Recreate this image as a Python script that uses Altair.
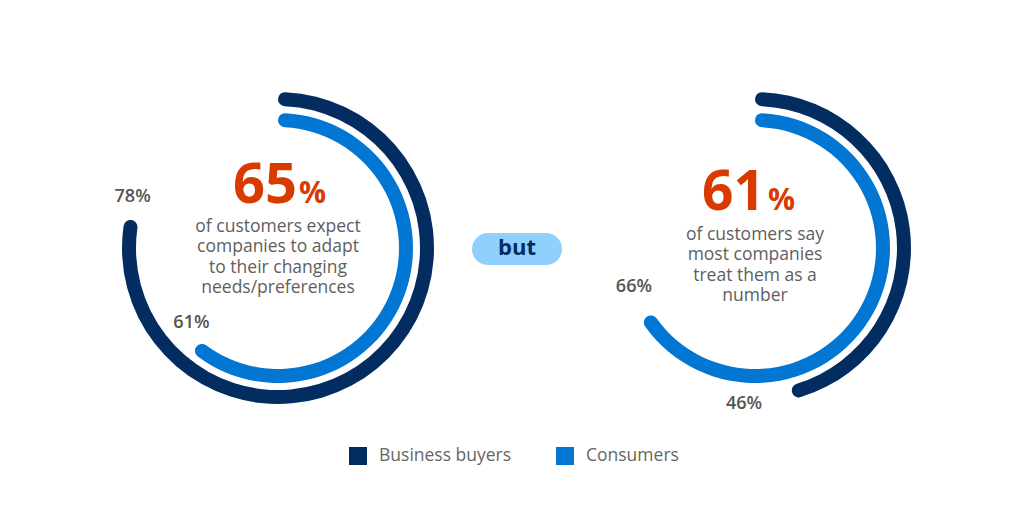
import math
import altair as alt
import pandas as pd

# ---- data ----
panels = ["left", "right"]
segments = ["Business buyers", "Consumers"]
buyers_values = [78, 46]
consumer_values = [61, 66]
headline_numbers = ["65", "61"]
subtitle_lines = [
    ["of customers expect", "companies to adapt", "to their changing", "needs/preferences"],
    ["of customers say", "most companies", "treat them as a", "number"],
]
connector_word = "but"

rows = []
for p, b, c in zip(panels, buyers_values, consumer_values):
    rows.append({"panel": p, "segment": segments[0], "value": b, "label": f"{b}%"})
    rows.append({"panel": p, "segment": segments[1], "value": c, "label": f"{c}%"})
arcs_df = pd.DataFrame(rows)
text_df = pd.DataFrame({"panel": panels, "headline": headline_numbers})
line_rows = []
for p, lines in zip(panels, subtitle_lines):
    for i, t in enumerate(lines):
        line_rows.append({"panel": p, "line": i, "text": t})
lines_df = pd.DataFrame(line_rows)

NAVY = "#032D60"
BLUE = "#0176D3"
ORANGE = "#D83A00"
GRAY = "#5E5E5E"
FONT = "Open Sans"

x_enc = alt.X("panel:N", scale=alt.Scale(type="point", domain=panels, range=[278, 755], padding=0), axis=None)
theta_scale = alt.Scale(domain=[0, 100], range=[0, 2 * math.pi])
color_enc = alt.Color(
    "segment:N",
    scale=alt.Scale(domain=segments, range=[NAVY, BLUE]),
    legend=alt.Legend(
        orient="none", legendX=349, legendY=447, direction="horizontal",
        title=None, symbolType="square", symbolSize=324, symbolStrokeWidth=0,
        labelFontSize=17.5, labelFont=FONT, labelColor="#666666", labelOffset=12,
        columnPadding=44, padding=0, labelFontWeight=500,
    ),
)

base = alt.Chart(arcs_df)

outer = base.transform_filter(alt.datum.segment == segments[0]).mark_arc(cornerRadius=7).encode(
    x=x_enc, y=alt.value(248),
    theta=alt.Theta("value:Q", stack=None, scale=theta_scale),
    theta2=alt.Theta2(datum=0),
    radius=alt.value(156), radius2=alt.value(142),
    color=color_enc,
)
inner = base.transform_filter(alt.datum.segment == segments[1]).mark_arc(cornerRadius=7).encode(
    x=x_enc, y=alt.value(248),
    theta=alt.Theta("value:Q", stack=None, scale=theta_scale),
    theta2=alt.Theta2(datum=0),
    radius=alt.value(135), radius2=alt.value(121),
    color=color_enc,
)

def end_label(panel, segment, r, dx, dy):
    return base.transform_filter(
        (alt.datum.panel == panel) & (alt.datum.segment == segment)
    ).mark_text(
        font=FONT, fontSize=18, fontWeight=600, color="#555555",
        align="center", baseline="middle", dx=dx, dy=dy,
    ).encode(
        x=x_enc, y=alt.value(248),
        theta=alt.Theta("value:Q", stack=None, scale=theta_scale),
        radius=alt.value(r),
        text="label:N",
    )

labels = [
    end_label("left", segments[0], 149, 1, -23),
    end_label("left", segments[1], 128, -5, -24),
    end_label("right", segments[1], 128, -13, -30),
    end_label("right", segments[0], 149, -48, 12),
]

tbase = alt.Chart(text_df)
lbase = alt.Chart(lines_df)
line_y = alt.Y("line:O", scale=alt.Scale(type="point", domain=[0, 1, 2, 3], range=[232, 293], padding=0), axis=None)

def headline(panel, y, dx_num, dx_pct, dy_lines, size):
    f = tbase.transform_filter(alt.datum.panel == panel)
    num = f.mark_text(font=FONT, fontSize=size, fontWeight=700, color=ORANGE,
                      align="right", baseline="alphabetic", dx=dx_num).encode(
        x=x_enc, y=alt.value(y), text="headline:N")
    pct = f.mark_text(font=FONT, fontSize=30, fontWeight=700, color=ORANGE,
                      align="left", baseline="alphabetic", dx=dx_pct).encode(
        x=x_enc, y=alt.value(y), text=alt.value("%"))
    sub = lbase.transform_filter(alt.datum.panel == panel).mark_text(
        font=FONT, fontSize=17.5, color=GRAY, align="center",
        baseline="alphabetic", dy=dy_lines).encode(
        x=x_enc, y=line_y, text="text:N")
    return [num, pct, sub]

heads = headline("left", 203, 19, 21, 0, 56) + headline("right", 210, 10, 13, 8, 55)

pill = alt.Chart(pd.DataFrame({"word": [connector_word]})).mark_rect(
    cornerRadius=16, color="#90D0FE"
).encode(x=alt.value(472), x2=alt.value(562), y=alt.value(233), y2=alt.value(265))
pill_text = alt.Chart(pd.DataFrame({"word": [connector_word]})).mark_text(
    font=FONT, fontSize=22, fontWeight=700, color=NAVY, align="center", baseline="middle"
).encode(x=alt.value(517), y=alt.value(248), text="word:N")

chart = alt.layer(outer, inner, *labels, *heads, pill, pill_text).properties(
    width=1024, height=508, autosize=alt.AutoSizeParams(type="none"), padding=0,
    background="white",
).configure_view(stroke=None)

chart.save("out.html", embed_options={"renderer": "svg", "actions": False})
